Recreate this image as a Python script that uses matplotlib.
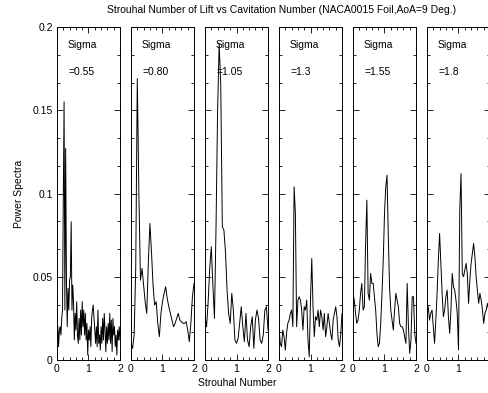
import numpy as np
import matplotlib
matplotlib.use("Agg")
import matplotlib.pyplot as plt
from matplotlib.ticker import AutoMinorLocator, FixedLocator

plt.rcParams["font.family"] = ["Liberation Sans", "DejaVu Sans"]

# %% data
sigma_labels = ["=0.55", "=0.80", "=1.05", "=1.3", "=1.55", "=1.8"]

st_055 = np.round(np.arange(0, 2.0001, 0.025), 3)
ps_055 = [0.012, 0.020, 0.008, 0.018, 0.020, 0.015, 0.025, 0.030, 0.098, 0.155,
          0.030, 0.127, 0.048, 0.020, 0.043, 0.030, 0.048, 0.050, 0.083, 0.030,
          0.045, 0.035, 0.012, 0.028, 0.018, 0.035, 0.015, 0.010, 0.025, 0.012,
          0.030, 0.015, 0.035, 0.020, 0.030, 0.015, 0.028, 0.012, 0.022, 0.003,
          0.018, 0.012, 0.020, 0.008, 0.025, 0.030, 0.033, 0.025, 0.018, 0.010,
          0.020, 0.008, 0.030, 0.010, 0.015, 0.006, 0.020, 0.010, 0.025, 0.012,
          0.028, 0.018, 0.005, 0.020, 0.010, 0.022, 0.012, 0.028, 0.010, 0.024,
          0.005, 0.025, 0.015, 0.020, 0.008, 0.015, 0.003, 0.018, 0.012, 0.020,
          0.012]

st_080 = np.round(np.arange(0, 2.0001, 0.05), 3)
ps_080 = [0.010, 0.007, 0.015, 0.055, 0.169, 0.100, 0.048, 0.055, 0.045, 0.035,
          0.028, 0.058, 0.082, 0.065, 0.045, 0.033, 0.035, 0.022, 0.014, 0.028,
          0.035, 0.040, 0.044, 0.037, 0.032, 0.028, 0.024, 0.020, 0.022, 0.025,
          0.028, 0.024, 0.023, 0.022, 0.022, 0.023, 0.018, 0.011, 0.022, 0.038,
          0.046]

st_105 = np.round(np.arange(0, 2.0001, 0.05), 3)
ps_105 = [0.026, 0.020, 0.035, 0.055, 0.068, 0.045, 0.025, 0.080, 0.150, 0.190,
          0.165, 0.080, 0.078, 0.065, 0.042, 0.028, 0.022, 0.040, 0.030, 0.012,
          0.010, 0.013, 0.022, 0.032, 0.020, 0.011, 0.028, 0.012, 0.008, 0.020,
          0.026, 0.007, 0.024, 0.030, 0.025, 0.012, 0.010, 0.015, 0.030, 0.032,
          0.018]

st_130 = np.round(np.arange(0, 2.0001, 0.04), 3)
ps_130 = [0.020, 0.010, 0.008, 0.018, 0.014, 0.006, 0.016, 0.022, 0.024, 0.028,
          0.030, 0.020, 0.104, 0.088, 0.020, 0.036, 0.038, 0.036, 0.030, 0.018,
          0.032, 0.030, 0.036, 0.012, 0.002, 0.036, 0.061, 0.032, 0.014, 0.026,
          0.024, 0.030, 0.020, 0.030, 0.026, 0.018, 0.028, 0.014, 0.020, 0.028,
          0.022, 0.016, 0.012, 0.024, 0.028, 0.032, 0.026, 0.012, 0.008, 0.015,
          0.028]

st_155 = np.round(np.arange(0, 2.0001, 0.04), 3)
ps_155 = [0.040, 0.036, 0.028, 0.022, 0.024, 0.030, 0.040, 0.046, 0.030, 0.032,
          0.070, 0.096, 0.040, 0.036, 0.052, 0.046, 0.046, 0.038, 0.030, 0.016,
          0.008, 0.010, 0.022, 0.040, 0.060, 0.088, 0.104, 0.111, 0.075, 0.044,
          0.030, 0.024, 0.018, 0.030, 0.040, 0.036, 0.032, 0.022, 0.020, 0.020,
          0.018, 0.014, 0.010, 0.046, 0.020, 0.004, 0.012, 0.038, 0.038, 0.016,
          0.010]

st_180 = np.round(np.arange(0, 2.0001, 0.04), 3)
ps_180 = [0.028, 0.032, 0.024, 0.028, 0.030, 0.020, 0.010, 0.024, 0.040, 0.060,
          0.076, 0.058, 0.040, 0.026, 0.030, 0.038, 0.042, 0.026, 0.016, 0.030,
          0.052, 0.044, 0.042, 0.036, 0.028, 0.006, 0.090, 0.112, 0.052, 0.050,
          0.054, 0.058, 0.052, 0.034, 0.048, 0.058, 0.064, 0.070, 0.062, 0.050,
          0.042, 0.034, 0.040, 0.036, 0.030, 0.022, 0.028, 0.030, 0.034, 0.030,
          0.032]

strouhal = [st_055, st_080, st_105, st_130, st_155, st_180]
spectra = [ps_055, ps_080, ps_105, ps_130, ps_155, ps_180]

# %% figure
W, H = 489, 393
fig = plt.figure(figsize=(W / 100, H / 100), dpi=100)

left0, step, width = 57 / W, 74 / W, 63 / W
bottom, top = 1 - 360 / H, 1 - 27 / H

for i, (st, ps, lab) in enumerate(zip(strouhal, spectra, sigma_labels)):
    ax = fig.add_axes([left0 + i * step, bottom, width, top - bottom])
    ax.plot(st, ps, color="black", lw=0.7)
    ax.set_xlim(0, 2)
    ax.set_ylim(0, 0.2)
    ax.xaxis.set_major_locator(FixedLocator([0, 1, 2]))
    ax.xaxis.set_minor_locator(AutoMinorLocator(5))
    ax.yaxis.set_major_locator(FixedLocator([0, 0.05, 0.1, 0.15, 0.2]))
    ax.yaxis.set_minor_locator(AutoMinorLocator(3))
    ax.tick_params(which="both", direction="in", top=True, right=True,
                   labelsize=7.5, width=0.6, pad=3)
    ax.tick_params(which="major", length=4)
    ax.tick_params(which="minor", length=2)
    ax.set_xticklabels(["0", "1", "2"])
    if i == 0:
        ax.set_yticklabels(["0", "0.05", "0.1", "0.15", "0.2"])
        ax.set_ylabel("Power Spectra", fontsize=7.5, labelpad=6)
    else:
        ax.set_yticklabels([])
    for sp in ax.spines.values():
        sp.set_linewidth(0.7)
    ax.text(0.35, 0.189, "Sigma", fontsize=7.5, va="center")
    ax.text(0.35, 0.173, lab, fontsize=7.5, va="center")

fig.text(237 / W, 1 - 383 / H, "Strouhal Number", fontsize=7.5,
         ha="center", va="center")
fig.text(282 / W, 1 - 10 / H,
         "Strouhal Number of Lift vs Cavitation Number (NACA0015 Foil,AoA=9 Deg.)",
         fontsize=7.5, ha="center", va="center")

fig.savefig("out.png", dpi=100)
